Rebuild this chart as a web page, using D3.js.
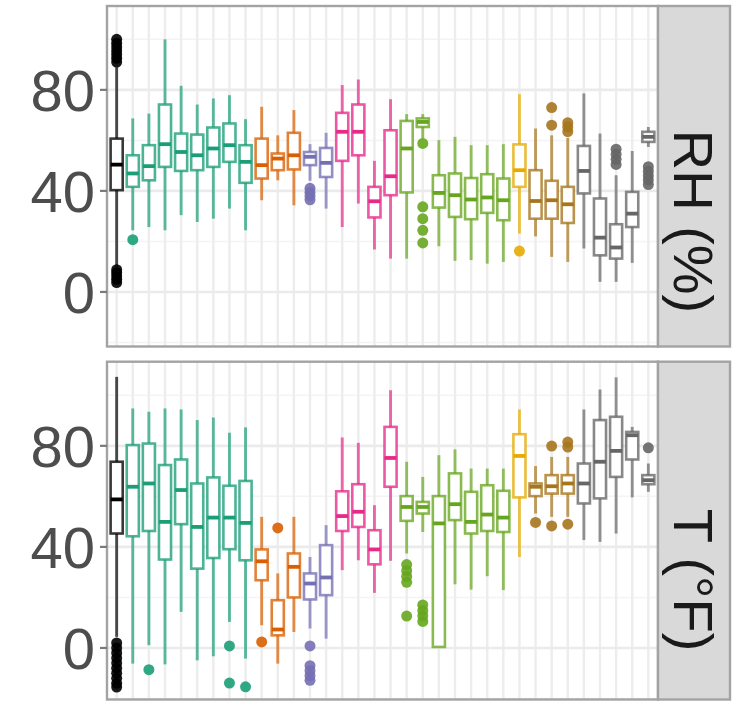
<!DOCTYPE html>
<html>
<head>
<meta charset="utf-8">
<script src="https://cdn.jsdelivr.net/npm/d3@7"></script>
<style>
  html, body { margin: 0; padding: 0; background: #fff; }
  svg { display: block; }
  text { font-family: "Liberation Sans", Arial, sans-serif; }
</style>
</head>
<body>
<svg id="chart" width="738" height="702"></svg>
<script>
// ---- data -------------------------------------------------------------
// 34 stations along the x axis; each belongs to a site group (colour)
const stations = d3.range(1, 35).map(i => "S" + i);
const stationGroup = [0, 1,1,1,1,1,1,1,1, 2,2,2, 3,3, 4,4,4,4, 5,5,5,5,5,5,5, 6, 7,7,7, 8,8,8,8,8];
const groupColors = ["#000000", "#1B9E77", "#D95F02", "#7570B3", "#E7298A",
                     "#66A61E", "#E6AB02", "#A6761D", "#666666"];

const facetLabels = ["RH (%)", "T (\u00B0F)"];
const yTicks = [0, 40, 80];
const yMinor = [-20, 20, 60, 100];

// box statistics per station: [lower whisker, Q1, median, Q3, upper whisker]
const rhStats = [
  [10, 40.3, 50.4, 60.7, 89],
  [24.4, 41.6, 46.9, 54.1, 68.7],
  [25.7, 44.2, 49.8, 58.1, 70.6],
  [24.4, 49.5, 58.5, 74.2, 100],
  [30.4, 47.9, 55.4, 62.7, 81.6],
  [27.7, 48.2, 54.1, 62.3, 74.2],
  [29, 49.5, 56.8, 65.1, 76.6],
  [33, 51.5, 58.1, 66.7, 77.9],
  [24.4, 43.2, 51.5, 58.1, 68.4],
  [36.3, 44.9, 50.2, 60.7, 73.3],
  [44.2, 48.2, 52.8, 54.8, 62],
  [34.3, 48.5, 54.1, 63, 72],
  [44, 50.2, 53.5, 55.4, 58.5],
  [33, 45.5, 51.1, 57, 63],
  [25.7, 51.9, 63.4, 70.9, 81.9],
  [35, 54.1, 63.4, 74.2, 84.1],
  [16.8, 29.5, 35.9, 41.6, 51.9],
  [13.2, 38.3, 45.8, 64, 76.3],
  [13.2, 39.4, 56.8, 67.7, 70.4],
  [60.7, 65.3, 67.3, 68.7, 70.4],
  [18.1, 33.4, 39.2, 46.2, 60.1],
  [12.3, 29.7, 38.3, 46.9, 61.4],
  [12.6, 28.8, 36.6, 45.1, 58.1],
  [11.2, 31.3, 37.4, 46.6, 58.1],
  [11.9, 28.4, 36.3, 44.9, 58.5],
  [23.1, 41.6, 48.2, 58.4, 78.3],
  [22, 29, 36, 48.2, 64.7],
  [13.9, 29, 36.3, 44, 62],
  [11.9, 27.3, 34.7, 41.6, 61],
  [17.2, 39, 47.9, 57.8, 78.6],
  [4, 14.5, 21.5, 37, 62.7],
  [4, 13.2, 17.6, 26.8, 46.2],
  [11.5, 25.7, 31, 39.6, 55.8],
  [57.4, 59.4, 61.4, 63.4, 65.3]
];
const rhOutliers = [
  [3.7, 5, 6.3, 7.6, 8.8, 91, 92.5, 94, 95.5, 97, 98.5, 100],
  [20.7], [], [], [], [], [], [], [],
  [], [], [],
  [36.5, 38, 39.5, 41], [],
  [], [], [], [],
  [], [58.8, 33.7, 29, 24.4, 19.4], [], [], [], [], [],
  [16.2],
  [], [66, 73], [63.5, 65.3, 67],
  [], [], [50.5, 52.5, 54.5, 56.5], [], [42.5, 44.3, 46, 47.8, 49.6]
];

const tStats = [
  [4.4, 45.3, 58.8, 73.7, 107.3],
  [-6.2, 44.2, 63.8, 80.3, 94.8],
  [1.1, 46.3, 65.1, 80.9, 93.5],
  [-6.5, 35, 49.9, 72.4, 94.8],
  [14.3, 49, 62.5, 74.6, 94.4],
  [-4.9, 31.4, 47.9, 65.1, 90.2],
  [-3.3, 35.6, 51.6, 67.5, 91.2],
  [10.3, 39.1, 51.6, 64.2, 85.2],
  [-4.2, 34.7, 49.5, 66.1, 87.3],
  [9, 26.8, 34.3, 39, 51.9],
  [-6.2, 5, 7.3, 18.9, 29.5],
  [6.3, 20, 32.1, 37.4, 51.9],
  [7.7, 19.2, 25.5, 29.5, 36],
  [3.7, 20.9, 27.9, 40.7, 48.6],
  [30.8, 46.3, 52.2, 62, 83.3],
  [34.7, 47.9, 53.9, 64.8, 81.2],
  [21.8, 33.1, 39, 46.6, 56.5],
  [34.5, 63.8, 75.2, 87.5, 102],
  [37.4, 50.3, 55.8, 60.1, 73.7],
  [45.9, 53.2, 55.8, 57.8, 67.7],
  [0.4, 0.4, 49.3, 60.1, 76.3],
  [25.2, 50.6, 56.9, 69.1, 78.6],
  [23.1, 45.3, 49.9, 61.8, 71],
  [28.4, 46.3, 52.8, 64.4, 71],
  [22.9, 45.9, 51.6, 62.2, 71],
  [36, 59.6, 76, 84.6, 94.4],
  [53.2, 60.1, 63.8, 65.1, 72],
  [51.9, 61.1, 64, 68.4, 75.6],
  [51.9, 61.1, 65.1, 68.4, 75.6],
  [42.7, 57.2, 65.1, 73, 94.4],
  [42, 59.2, 73.7, 90.2, 102.3],
  [45.3, 67.7, 78, 91.5, 107.1],
  [59.6, 74.6, 84.2, 85.5, 87.5],
  [61.8, 64.8, 66.4, 68.4, 73]
];
const tOutliers = [
  [2, 0, -2, -4, -6, -8, -10, -12, -14, -15.5],
  [], [-8.6], [], [], [], [], [0.8, -13.9], [-15.4],
  [2.4], [47.5], [],
  [0.8, -7, -9, -11, -12.8], [],
  [], [], [], [],
  [12.6, 26, 28.3, 30.6, 33], [10.5, 12.7, 14.8, 17], [], [], [], [], [],
  [],
  [49.7], [48.3, 79.9], [49, 79.5, 81.5],
  [], [], [], [], [79.2]
];

// ---- layout -----------------------------------------------------------
const svg = d3.select("#chart");
const panelX0 = 107, panelX1 = 658, stripX1 = 730;

const panels = [
  { label: facetLabels[0], stats: rhStats, outliers: rhOutliers,
    top: 6, bottom: 346.5, domain: [-21.6, 113.2], labelY: 221.5 },
  { label: facetLabels[1], stats: tStats, outliers: tOutliers,
    top: 361.7, bottom: 699.5, domain: [-20.4, 113.3], labelY: 580 }
];

const x = d3.scalePoint().domain(stations).range([panelX0, panelX1]).padding(0.6);
const boxW = x.step() * 0.75;
const colorOf = i => groupColors[stationGroup[i]];

panels.forEach(p => {
  const y = d3.scaleLinear().domain(p.domain).range([p.bottom, p.top]);
  const g = svg.append("g");

  // panel background + grid
  g.append("rect").attr("x", panelX0).attr("y", p.top)
    .attr("width", panelX1 - panelX0).attr("height", p.bottom - p.top)
    .attr("fill", "#fff");

  g.selectAll(".minor").data(yMinor.filter(v => v > p.domain[0] && v < p.domain[1]))
    .join("line")
    .attr("x1", panelX0).attr("x2", panelX1)
    .attr("y1", d => y(d)).attr("y2", d => y(d))
    .attr("stroke", "#F4F4F4").attr("stroke-width", 1.5);

  g.selectAll(".vgrid").data(stations).join("line")
    .attr("x1", d => x(d)).attr("x2", d => x(d))
    .attr("y1", p.top).attr("y2", p.bottom)
    .attr("stroke", "#EDEDED").attr("stroke-width", 2.4);

  g.selectAll(".major").data(yTicks).join("line")
    .attr("x1", panelX0).attr("x2", panelX1)
    .attr("y1", d => y(d)).attr("y2", d => y(d))
    .attr("stroke", "#EBEBEB").attr("stroke-width", 2.6);

  // boxplots
  const boxes = g.selectAll(".box").data(p.stats).join("g")
    .attr("transform", (d, i) => `translate(${x(stations[i])},0)`);

  boxes.append("line")
    .attr("y1", d => y(d[0])).attr("y2", d => y(d[1]))
    .attr("stroke", (d, i) => colorOf(i)).attr("stroke-opacity", 0.7)
    .attr("stroke-width", 2.9);
  boxes.append("line")
    .attr("y1", d => y(d[3])).attr("y2", d => y(d[4]))
    .attr("stroke", (d, i) => colorOf(i)).attr("stroke-opacity", 0.7)
    .attr("stroke-width", 2.9);
  boxes.append("rect")
    .attr("x", -boxW / 2).attr("width", boxW)
    .attr("y", d => y(d[3])).attr("height", d => Math.max(0.5, y(d[1]) - y(d[3])))
    .attr("fill", "#fff")
    .attr("stroke", (d, i) => colorOf(i)).attr("stroke-opacity", 0.78)
    .attr("stroke-width", 2.6);
  boxes.append("line")
    .attr("x1", -boxW / 2).attr("x2", boxW / 2)
    .attr("y1", d => y(d[2])).attr("y2", d => y(d[2]))
    .attr("stroke", (d, i) => colorOf(i)).attr("stroke-width", 3.8);

  // outliers
  boxes.each(function (d, i) {
    d3.select(this).selectAll("circle").data(p.outliers[i]).join("circle")
      .attr("cx", 0).attr("cy", v => y(v)).attr("r", 5.5)
      .attr("fill", colorOf(i)).attr("fill-opacity", 0.9);
  });

  // panel border
  g.append("rect").attr("x", panelX0).attr("y", p.top)
    .attr("width", panelX1 - panelX0).attr("height", p.bottom - p.top)
    .attr("fill", "none").attr("stroke", "#A3A3A3").attr("stroke-width", 2.4);

  // y axis: ticks and labels
  g.selectAll(".tick").data(yTicks).join("line")
    .attr("x1", panelX0 - 7).attr("x2", panelX0)
    .attr("y1", d => y(d)).attr("y2", d => y(d))
    .attr("stroke", "#7A7A7A").attr("stroke-width", 2.2);
  g.selectAll(".ylab").data(yTicks).join("text")
    .attr("x", panelX0 - 12).attr("y", d => y(d)).attr("dy", "0.36em")
    .attr("text-anchor", "end").attr("font-size", 58).attr("fill", "#4D4D4D")
    .text(d => d);

  // facet strip on the right
  g.append("rect").attr("x", panelX1).attr("y", p.top)
    .attr("width", stripX1 - panelX1).attr("height", p.bottom - p.top)
    .attr("fill", "#D9D9D9").attr("stroke", "#A3A3A3").attr("stroke-width", 2.4);
  g.append("text")
    .attr("transform", `translate(674,${p.labelY}) rotate(90)`)
    .attr("text-anchor", "middle").attr("font-size", 56).attr("fill", "#1A1A1A")
    .text(p.label);
});
</script>
</body>
</html>
